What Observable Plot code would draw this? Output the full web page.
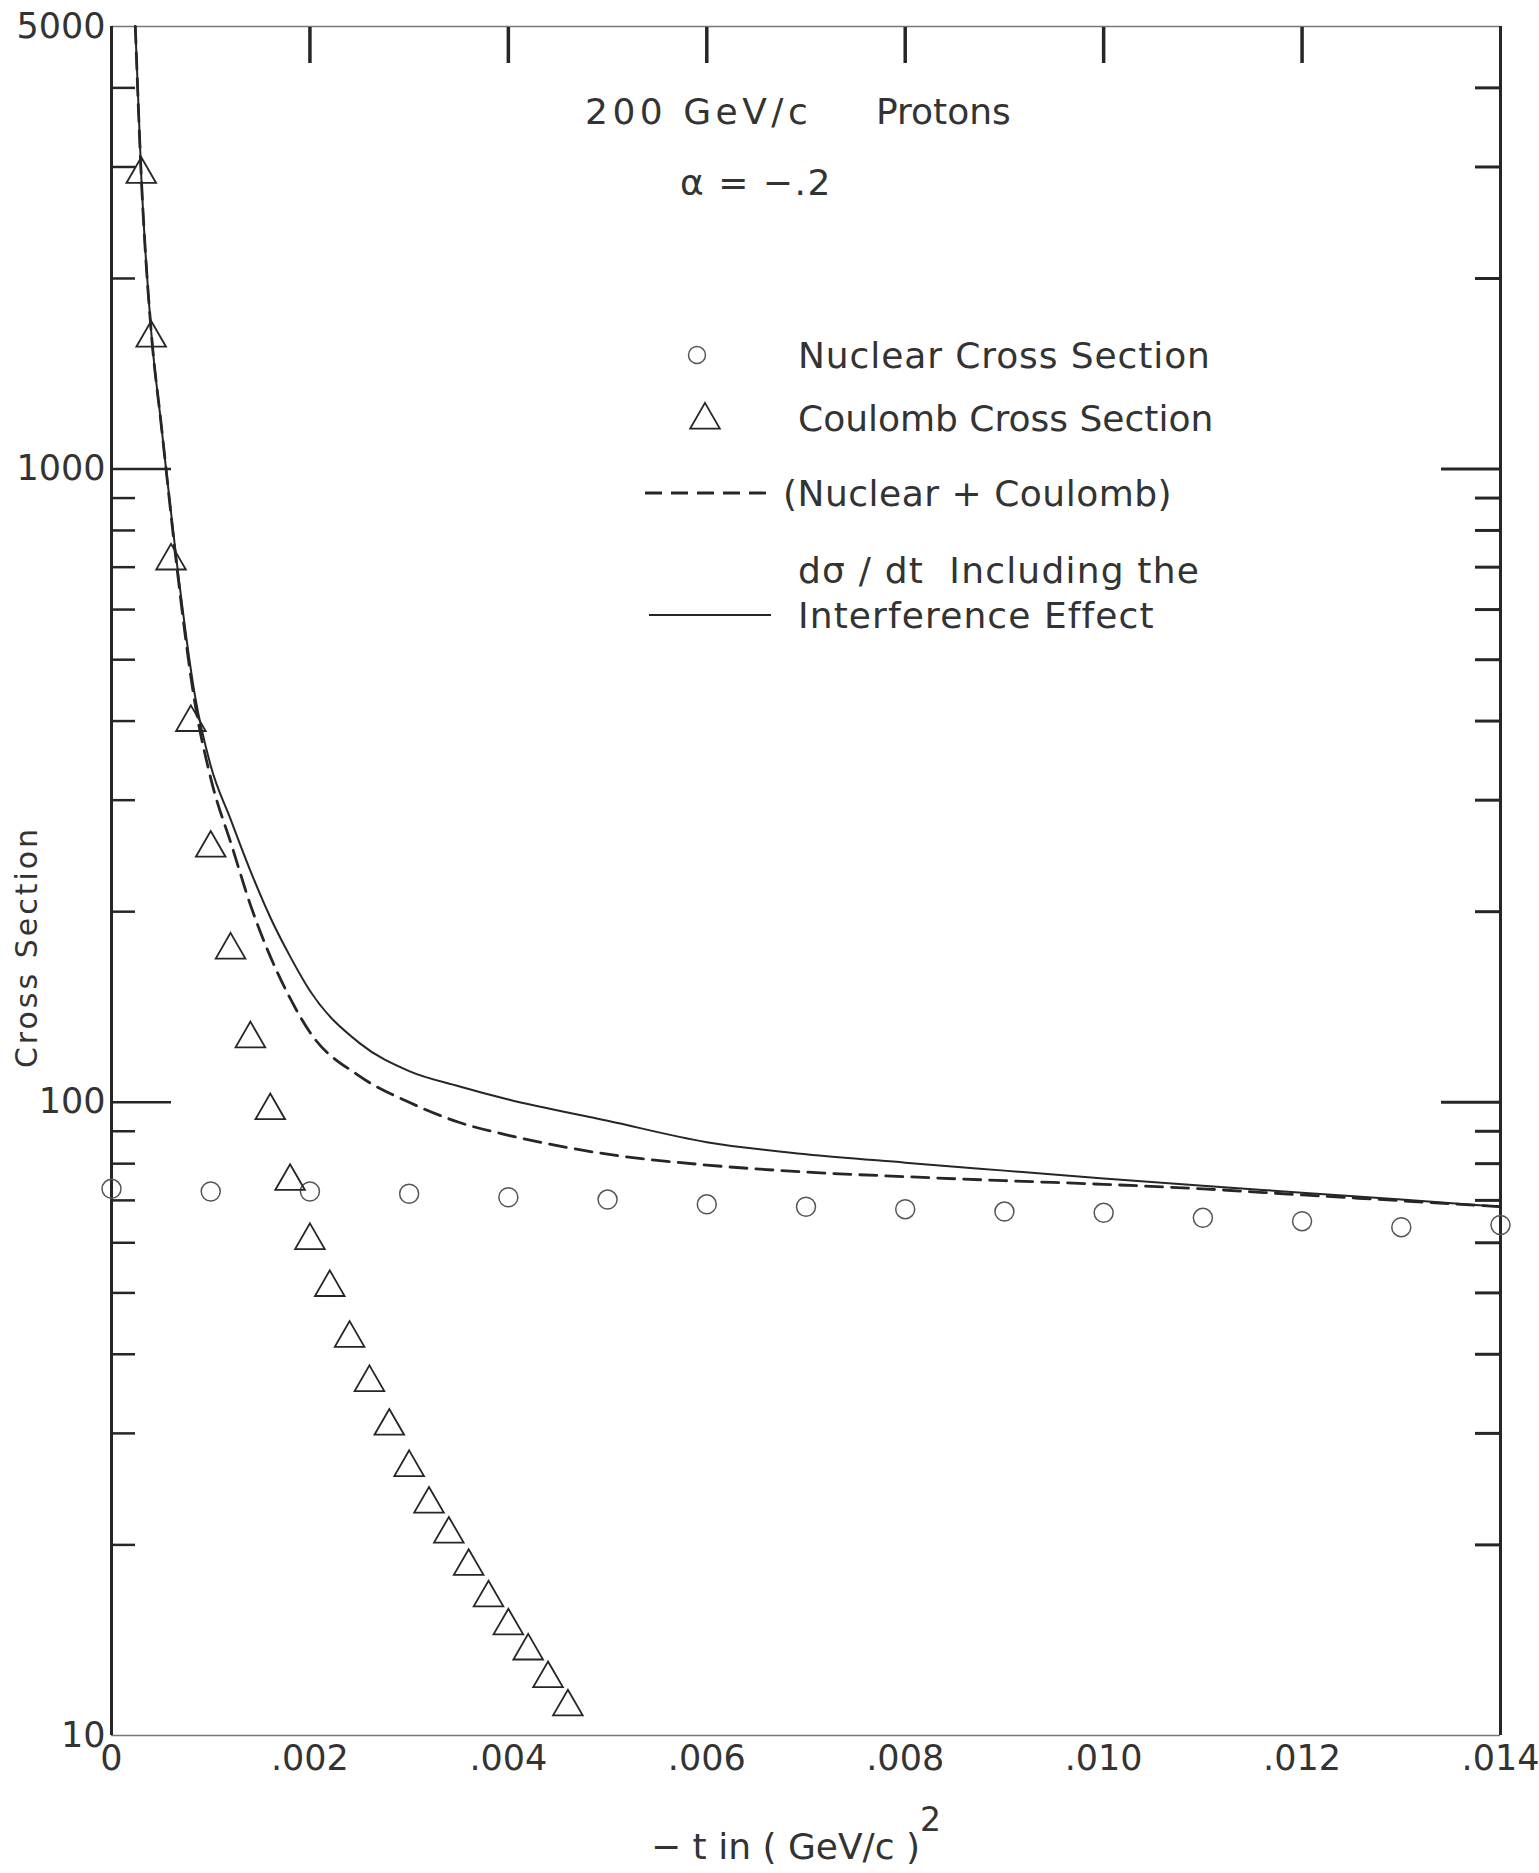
<!DOCTYPE html>
<html>
<head>
<meta charset="utf-8">
<script src="https://cdn.jsdelivr.net/npm/d3@7"></script>
<script src="https://cdn.jsdelivr.net/npm/@observablehq/plot@0.6"></script>
<style>
  html, body { margin: 0; padding: 0; background: #fff; }
  svg { display: block; }
</style>
</head>
<body>
<div id="chart"></div>
<script>
// ---- Data ----
// Nuclear cross section (circles)
const nuclearT = [0, 0.001, 0.002, 0.003, 0.004, 0.005, 0.006, 0.007, 0.008, 0.009, 0.010, 0.011, 0.012, 0.013, 0.014];
const nuclearSigma = [73.0, 72.3, 72.3, 71.7, 70.8, 70.2, 69.0, 68.4, 67.8, 67.2, 66.9, 65.7, 64.9, 63.5, 64.0];

// Coulomb cross section (triangles)
const coulombT = [0.0003, 0.0004, 0.0006, 0.0008, 0.0010, 0.0012, 0.0014, 0.0016, 0.0018, 0.0020, 0.0022, 0.0024,
                  0.0026, 0.0028, 0.0030, 0.0032, 0.0034, 0.0036, 0.0038, 0.0040, 0.0042, 0.0044, 0.0046];
const coulombSigma = [2920, 1610, 716, 398, 252, 174, 126, 97, 75, 60.5, 51, 42.4,
                      36.1, 30.8, 26.5, 23.2, 20.8, 18.5, 16.5, 14.9, 13.6, 12.3, 11.1];

// (Nuclear + Coulomb), dashed curve
const sumT = [0.00024, 0.0003, 0.0004, 0.0005, 0.00055, 0.00065, 0.00084, 0.001, 0.00122, 0.0014, 0.0016, 0.0018,
              0.002, 0.0025, 0.003, 0.0035, 0.004, 0.005, 0.006, 0.007, 0.008, 0.009, 0.010, 0.011, 0.012, 0.013, 0.014];
const sumSigma = [5000, 2900, 1650, 1180, 1000, 720, 428, 325, 252, 205, 170, 146,
                  129, 110, 100, 93, 88.7, 82.8, 79.6, 77.6, 76.3, 75.2, 74.2, 73.0, 71.4, 69.9, 68.4];

// dσ/dt including the interference effect, solid curve
const interfT = [0.00024, 0.0003, 0.0004, 0.0005, 0.00055, 0.00065, 0.00084, 0.001, 0.0012, 0.0014, 0.0016, 0.0018,
                 0.002, 0.0025, 0.003, 0.0035, 0.004, 0.005, 0.006, 0.007, 0.008, 0.009, 0.010, 0.011, 0.012, 0.013, 0.014];
const interfSigma = [5000, 2900, 1650, 1180, 1000, 730, 440, 340, 280, 232, 196, 170,
                     150, 124, 112, 106, 101, 93.5, 86.5, 82.8, 80.3, 78.0, 75.8, 73.8, 72.0, 70.2, 68.4];

// Ticks / labels
const xTickValues = [0, 0.002, 0.004, 0.006, 0.008, 0.010, 0.012, 0.014];
const xTopTicks = [0.002, 0.004, 0.006, 0.008, 0.010, 0.012];
const yLabelValues = [10, 100, 1000, 5000];
const yMajorTicks = [100, 1000];
const yMinorTicks = [20, 30, 40, 50, 60, 70, 80, 90, 200, 300, 400, 500, 600, 700, 800, 900, 2000, 3000, 4000];

// ---- Tables ----
const zip = (ts, ss) => ts.map((t, i) => ({t, sigma: ss[i]}));
const nuclear = zip(nuclearT, nuclearSigma);
const coulomb = zip(coulombT, coulombSigma);
const sumCurve = zip(sumT, sumSigma);
const interfCurve = zip(interfT, interfSigma);

// ---- Layout / style ----
const W = 1539, H = 1873;
const ML = 111, MR = 39, MT = 26, MB = 138;
const FONT = "'DejaVu Sans', 'Liberation Sans', sans-serif";
const INK = "#262626";
const TXT = "#333333";
const SOFT = "#555";

const fmtX = d => d === 0 ? "0" : d3.format(".3f")(d).replace(/^0/, "");

function annotations() {
  const g = d3.create("svg:g")
    .attr("font-family", FONT)
    .attr("fill", TXT)
    .attr("text-anchor", "start")
    .attr("font-size", 36);
  const txt = (x, y, s, size, spacing) => {
    const e = g.append("text").attr("x", x).attr("y", y).attr("dy", "0.36em")
      .attr("text-anchor", "start")
      .style("white-space", "pre").text(s);
    if (size) e.attr("font-size", size);
    if (spacing) e.attr("letter-spacing", spacing);
    return e;
  };
  // Title block
  txt(585, 111, "200 GeV/c", null, 4.5);
  txt(876, 111, "Protons");
  txt(680, 182, "α = −.2", null, 1.5);
  // Legend
  g.append("circle").attr("cx", 697).attr("cy", 355).attr("r", 8.5)
    .attr("fill", "none").attr("stroke", SOFT).attr("stroke-width", 1.5);
  txt(798, 355, "Nuclear Cross Section", null, 0.9);
  g.append("path").attr("d", d3.symbol(d3.symbolTriangle, Math.PI * 11 * 11)())
    .attr("transform", "translate(705,420)")
    .attr("fill", "none").attr("stroke", INK).attr("stroke-width", 1.8);
  txt(798, 418, "Coulomb Cross Section");
  g.append("line").attr("x1", 645).attr("x2", 771).attr("y1", 493).attr("y2", 493)
    .attr("stroke", INK).attr("stroke-width", 2.8).attr("stroke-dasharray", "17,9");
  txt(783, 493, "(Nuclear + Coulomb)", null, 0.5);
  txt(798, 570, "dσ / dt  Including the", null, 1.2);
  g.append("line").attr("x1", 649).attr("x2", 771).attr("y1", 615).attr("y2", 615)
    .attr("stroke", INK).attr("stroke-width", 2);
  txt(798, 615, "Interference Effect", null, 1.1);
  // Axis titles
  g.append("text").attr("transform", "translate(26,947) rotate(-90)")
    .attr("text-anchor", "middle").attr("dy", "0.36em")
    .attr("font-size", 30).attr("letter-spacing", 3).text("Cross Section");
  txt(651, 1846, "− t in ( GeV/c )");
  txt(920, 1819, "2", 33);
  return g.node();
}

const chart = Plot.plot({
  width: W,
  height: H,
  marginLeft: ML,
  marginRight: MR,
  marginTop: MT,
  marginBottom: MB,
  style: {fontFamily: FONT, color: INK, background: "white", overflow: "visible"},
  x: {domain: [0, 0.014], axis: null},
  y: {type: "log", domain: [10, 5000], axis: null},
  marks: [
    // frame
    Plot.ruleY([10, 5000], {stroke: "#777", strokeWidth: 1.5}),
    Plot.ruleX([0, 0.014], {stroke: INK, strokeWidth: 3}),
    // inward ticks
    Plot.axisY(yMinorTicks, {anchor: "left", tickSize: -24, stroke: INK, strokeWidth: 2.5, fill: "none", label: null}),
    Plot.axisY(yMajorTicks, {anchor: "left", tickSize: -60, stroke: INK, strokeWidth: 2.5, fill: "none", label: null}),
    Plot.axisY(yMinorTicks, {anchor: "right", tickSize: -26, stroke: INK, strokeWidth: 3, fill: "none", label: null}),
    Plot.axisY(yMajorTicks, {anchor: "right", tickSize: -60, stroke: INK, strokeWidth: 3, fill: "none", label: null}),
    Plot.axisX(xTopTicks, {anchor: "top", tickSize: -36, stroke: INK, strokeWidth: 3.5, fill: "none", label: null}),
    // tick labels
    Plot.axisY(yLabelValues, {anchor: "left", tickSize: 0, tickPadding: 6, fontSize: 35,
      tickFormat: d => String(d), fill: TXT, label: null}),
    Plot.axisX(xTickValues, {anchor: "bottom", tickSize: 0, tickPadding: 10, fontSize: 35,
      tickFormat: fmtX, fill: TXT, label: null}),
    // curves
    Plot.line(sumCurve, {x: "t", y: "sigma", stroke: INK, strokeWidth: 2.8, strokeDasharray: "17,9", curve: "monotone-x"}),
    Plot.line(interfCurve, {x: "t", y: "sigma", stroke: INK, strokeWidth: 2, curve: "monotone-x"}),
    // points
    Plot.dot(nuclear, {x: "t", y: "sigma", r: 9.5, stroke: SOFT, strokeWidth: 1.5, fill: "none"}),
    Plot.dot(coulomb, {x: "t", y: "sigma", symbol: "triangle", r: 11, stroke: INK, strokeWidth: 1.8, fill: "none"}),
    annotations
  ]
});

document.getElementById("chart").append(chart);
</script>
</body>
</html>
